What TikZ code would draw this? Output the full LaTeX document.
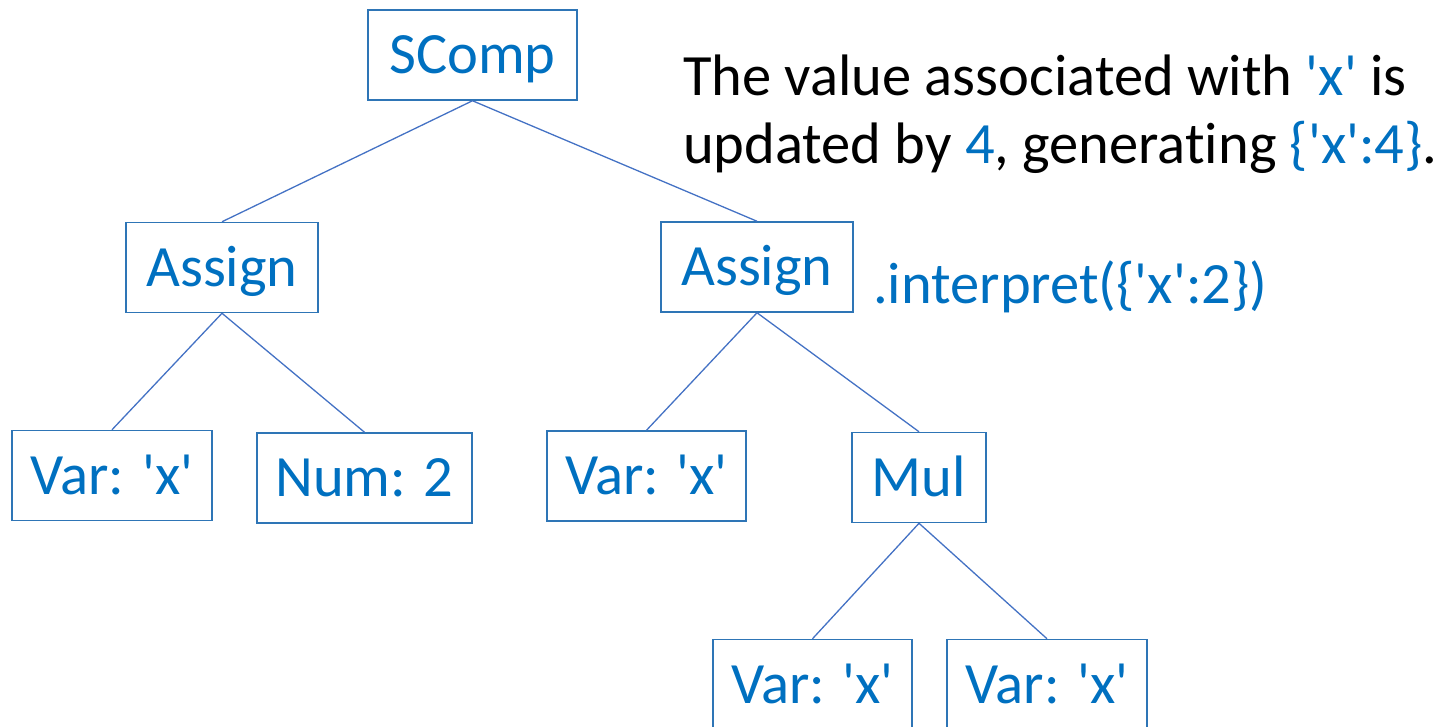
\documentclass[tikz,border=0pt]{standalone}
\usepackage{fontspec}
\setmainfont{Carlito}[Ligatures={TeXOff,NoCommon}]
\definecolor{txtblue}{HTML}{0070C0}
\definecolor{boxblue}{HTML}{2E75B6}
\definecolor{edgeblue}{HTML}{4472C4}
\tikzset{
  x=1pt, y=-1pt,
  astnode/.style={draw=boxblue, line width=1.5pt, text=txtblue, inner sep=0pt,
    font=\fontsize{58.5}{70}\selectfont, text height=37.6pt, text depth=0pt,
    minimum height=90pt},
  edge/.style={draw=edgeblue, line width=1.3pt},
  caption/.style={inner sep=0pt, anchor=base west, font=\fontsize{58.5}{70}\selectfont}
}
\begin{document}
\begin{tikzpicture}
\useasboundingbox (0,0) rectangle (1456,726);
\clip (0,0) rectangle (1456,726);
% tree nodes
\node[astnode, minimum width=209pt] (scomp) at (472.5,55) {SComp};
\node[astnode, minimum width=192pt] (asgL) at (222,267.5) {Assign};
\node[astnode, minimum width=192pt] (asgR) at (757,267) {Assign};
\node[astnode, minimum width=200pt] (varA) at (112,475.5) {Var: 'x'};
\node[astnode, minimum width=215pt] (num) at (364.5,478) {Num: 2};
\node[astnode, minimum width=199pt] (varB) at (646.5,476) {Var: 'x'};
\node[astnode, minimum width=134pt] (mul) at (919,477.5) {Mul};
\node[astnode, minimum width=199pt] (varC) at (812.5,684.5) {Var: 'x'};
\node[astnode, minimum width=200pt] (varD) at (1047,684.5) {Var: 'x'};
% connectors
\draw[edge] (scomp.south) -- (asgL.north);
\draw[edge] (scomp.south) -- (asgR.north);
\draw[edge] (asgL.south) -- (varA.north);
\draw[edge] (asgL.south) -- (num.north);
\draw[edge] (asgR.south) -- (varB.north);
\draw[edge] (asgR.south) -- (mul.north);
\draw[edge] (mul.south) -- (varC.north);
\draw[edge] (mul.south) -- (varD.north);
% annotations
\node[caption] (noteA) at (683,95) {The value associated with \textcolor{txtblue}{'x'} is};
\node[caption] (noteB) at (683,163) {updated by \textcolor{txtblue}{4}, generating \textcolor{txtblue}{\{'x':4\}}.};
\node[caption, text=txtblue] (call) at (873,303) {.interpret(\{'x':2\})};
\end{tikzpicture}
\end{document}
